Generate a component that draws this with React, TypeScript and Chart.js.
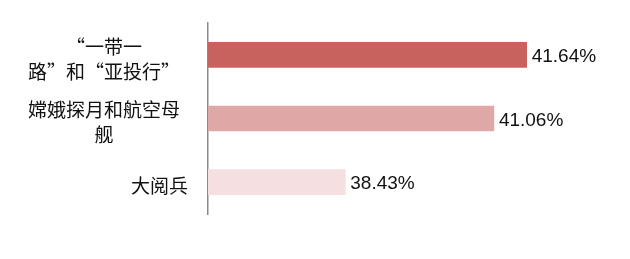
import React, { useEffect, useRef } from "react";
import { Chart, registerables } from "chart.js";

Chart.register(...registerables);

const categories: string[][] = [
  ["“一带一", "路”和“亚投行”"],
  ["嫦娥探月和航空母", "舰"],
  ["大阅兵"],
];
const values: number[] = [41.64, 41.06, 38.43];
const valueLabels: string[] = ["41.64%", "41.06%", "38.43%"];
const barColors: string[] = ["#c8625f", "#dfa8a7", "#f5dfe1"];

const labelPlugin = {
  id: "customLabels",
  afterDatasetsDraw(chart: any) {
    const ctx = chart.ctx;
    const yScale = chart.scales.y;
    const meta = chart.getDatasetMeta(0);
    ctx.save();
    ctx.fillStyle = "#111";
    ctx.textBaseline = "middle";
    // category labels
    ctx.font = '19px "Noto Sans CJK SC", sans-serif';
    categories.forEach((lines, i) => {
      const yc = yScale.getPixelForValue(i) + 4;
      const lh = 25;
      const y0 = yc - ((lines.length - 1) * lh) / 2;
      lines.forEach((line, j) => {
        if (lines.length > 1) {
          ctx.textAlign = "center";
          ctx.fillText(line, 104, y0 + j * lh);
        } else {
          ctx.textAlign = "right";
          ctx.fillText(line, 188, y0 + j * lh);
        }
      });
    });
    // value labels
    ctx.font = '19px "Liberation Sans", sans-serif';
    ctx.textAlign = "left";
    meta.data.forEach((bar: any, i: number) => {
      ctx.fillText(valueLabels[i], bar.x + 5, bar.y + 2);
    });
    ctx.restore();
  },
};

export default function App() {
  const ref = useRef<HTMLCanvasElement>(null);
  useEffect(() => {
    if (!ref.current) return;
    const chart = new Chart(ref.current, {
      type: "bar",
      data: {
        labels: categories.map((c) => c.join("")),
        datasets: [
          {
            data: values,
            backgroundColor: barColors,
            borderWidth: 0,
            barThickness: 25,
          },
        ],
      },
      options: {
        indexAxis: "y",
        animation: false,
        responsive: false,
        maintainAspectRatio: false,
        layout: { padding: { top: 23, bottom: 45, right: 83, left: 0 } },
        plugins: { legend: { display: false }, tooltip: { enabled: false } },
        scales: {
          x: { display: false, min: 36, max: 42 },
          y: {
            ticks: { display: false },
            grid: { display: false },
            border: { display: true, color: "#8a8a8a", width: 1.5 },
            afterFit: (scale: any) => {
              scale.width = 208;
            },
          },
        },
      },
      plugins: [labelPlugin],
    });
    return () => chart.destroy();
  }, []);
  return (
    <div style={{ position: "fixed", left: 0, top: 0, width: 630, height: 259, background: "#fff" }}>
      <canvas ref={ref} width={630} height={259} style={{ width: 630, height: 259 }} />
    </div>
  );
}
